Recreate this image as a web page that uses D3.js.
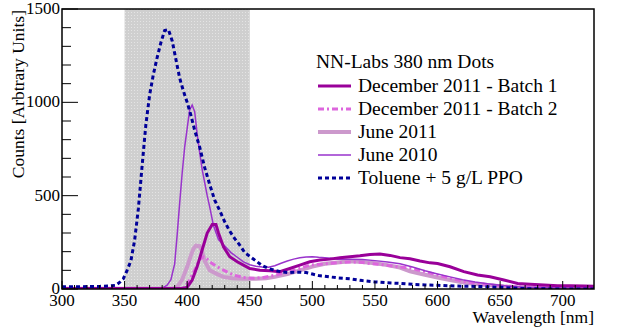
<!DOCTYPE html>
<html>
<head>
<meta charset="utf-8">
<script src="https://cdn.jsdelivr.net/npm/d3@7"></script>
<style>
  body { margin: 0; background: #fff; overflow: hidden; }
  svg { display: block; }
  text { font-family: 'Liberation Serif', 'Times New Roman', 'DejaVu Serif', serif; }
</style>
</head>
<body>
<svg id="chart" width="623" height="329"></svg>
<script>
// DATA --------------------------------------------------------------------
// wavelength [nm], counts
const batch1 = [[300,3],[350,3],[395,3],[398,5],[400,10],[404,48],[408,120],[412,210],[416,300],[420,345],[423,345],[425,300],[429,226],[434,173],[440,146],[445,128],[450,110],[458,101],[466,98],[474,93],[482,110],[490,128],[498,146],[506,155],[514,160],[522,167],[530,173],[538,178],[546,185],[554,187],[562,180],[570,168],[578,162],[586,150],[594,140],[600,137],[610,119],[621,93],[632,75],[642,66],[653,48],[664,30],[674,25],[685,21],[696,18],[706,18],[717,16],[725,15]];
const batch2 = [[300,3],[350,3],[395,3],[398,8],[402,50],[406,101],[410,160],[413,172],[416,160],[418,146],[424,119],[429,101],[437,75],[445,62],[453,57],[461,62],[471,75],[482,93],[490,110],[498,128],[506,133],[514,137],[522,142],[530,145],[538,143],[546,137],[554,132],[562,125],[570,118],[578,112],[589,95],[600,75],[610,58],[621,40],[632,30],[642,21],[653,15],[664,12],[680,8],[700,6],[725,5]];
const june2011 = [[300,2],[350,2],[388,2],[392,10],[396,50],[400,119],[403,180],[405,215],[407,232],[410,230],[412,200],[414,150],[416,125],[418,100],[424,80],[429,65],[436,58],[445,55],[455,55],[463,57],[470,65],[480,80],[490,100],[500,120],[510,135],[520,142],[530,148],[540,145],[550,138],[560,128],[570,115],[578,95],[589,78],[600,62],[610,48],[621,35],[632,26],[642,20],[653,14],[664,10],[680,7],[700,5],[725,4]];
const june2010 = [[300,2],[350,2],[380,5],[384,20],[387,50],[390,135],[392,290],[394,460],[396,620],[398,760],[400,860],[402,960],[404,985],[406,950],[408,830],[410,730],[412,640],[414,570],[416,500],[418,440],[421,340],[425,265],[430,230],[435,195],[440,170],[445,145],[450,130],[455,122],[460,118],[465,117],[470,125],[475,138],[480,150],[485,160],[490,167],[495,172],[500,173],[505,170],[510,168],[515,165],[520,160],[530,160],[540,158],[550,152],[560,145],[570,135],[580,118],[590,98],[600,80],[610,65],[620,50],[630,38],[640,28],[650,20],[660,14],[670,10],[680,8],[700,6],[725,5]];
const toluene = [[300,12],[310,12],[320,13],[330,14],[338,16],[343,20],[346,35],[349,55],[352,100],[355,150],[358,260],[361,430],[364,660],[367,880],[370,1040],[373,1150],[376,1240],[379,1320],[382,1385],[385,1390],[388,1330],[391,1230],[394,1130],[397,1060],[400,1000],[403,930],[406,850],[410,760],[414,650],[418,560],[422,476],[426,420],[430,360],[434,310],[438,270],[442,235],[446,195],[450,175],[455,150],[460,125],[465,110],[470,100],[475,92],[480,88],[485,90],[490,90],[495,88],[500,80],[505,72],[510,68],[520,60],[530,55],[540,45],[550,38],[560,33],[570,30],[580,25],[590,22],[600,20],[610,17],[620,15],[630,14],[640,12],[650,9],[660,5],[670,2],[680,1],[700,0],[725,0]];

const band = [350, 450];
const xTicks = [300, 350, 400, 450, 500, 550, 600, 650, 700];
const yTicks = [0, 500, 1000, 1500];

const legendTitle = "NN-Labs 380 nm Dots";
const series = [
  { name: "December 2011 - Batch 1", data: batch1,   color: "#990099", width: 3,   dash: null },
  { name: "December 2011 - Batch 2", data: batch2,   color: "#dd66dd", width: 3,   dash: "6,3,2,3" },
  { name: "June 2011",               data: june2011, color: "#cc99cc", width: 4,   dash: null },
  { name: "June 2010",               data: june2010, color: "#9933cc", width: 1.5, dash: null },
  { name: "Toluene + 5 g/L PPO",     data: toluene,  color: "#000099", width: 3,   dash: "4,3" }
];
// draw order (back to front)
const drawOrder = [2, 1, 3, 0, 4];

// SET UP ------------------------------------------------------------------
const svg = d3.select("#chart");
const margin = { top: 9, right: 29, bottom: 40, left: 62 };
const innerWidth = +svg.attr("width") - margin.left - margin.right;
const innerHeight = +svg.attr("height") - margin.top - margin.bottom;

const xScale = d3.scaleLinear().domain([300, 725]).range([0, innerWidth]);
const yScale = d3.scaleLinear().domain([0, 1500]).range([innerHeight, 0]);

const defs = svg.append("defs");
const pat = defs.append("pattern")
  .attr("id", "stipple").attr("width", 3).attr("height", 3)
  .attr("patternUnits", "userSpaceOnUse");
pat.append("rect").attr("width", 3).attr("height", 3).attr("fill", "#cfcfcf");
pat.append("rect").attr("width", 1).attr("height", 1).attr("fill", "#e4e4e4");

defs.append("clipPath").attr("id", "plotClip")
  .append("rect").attr("width", innerWidth).attr("height", innerHeight);

const g = svg.append("g").attr("transform", `translate(${margin.left},${margin.top})`);

// shaded band
g.append("rect")
  .attr("x", xScale(band[0])).attr("y", 0)
  .attr("width", xScale(band[1]) - xScale(band[0]))
  .attr("height", innerHeight)
  .attr("fill", "url(#stipple)");

// curves
const line = d3.line().x(d => xScale(d[0])).y(d => yScale(d[1]));
const curves = g.append("g").attr("clip-path", "url(#plotClip)");
drawOrder.forEach(i => {
  const s = series[i];
  curves.append("path")
    .datum(s.data)
    .attr("fill", "none")
    .attr("stroke", s.color)
    .attr("stroke-width", s.width)
    .attr("stroke-dasharray", s.dash)
    .attr("d", line);
});

// axes (ROOT style, ticks pointing inward) ----------------------------------
const xMinor = d3.range(300, 726, 10);
const yMinor = d3.range(0, 1501, 100);

g.selectAll(".xminor").data(xMinor).enter().append("line")
  .attr("x1", d => xScale(d)).attr("x2", d => xScale(d))
  .attr("y1", innerHeight).attr("y2", d => innerHeight - (d % 50 === 0 ? 8 : 4))
  .attr("stroke", "#000").attr("stroke-width", 1);

g.selectAll(".yminor").data(yMinor).enter().append("line")
  .attr("y1", d => yScale(d)).attr("y2", d => yScale(d))
  .attr("x1", 0).attr("x2", d => (d % 500 === 0 ? 16 : 9))
  .attr("stroke", "#000").attr("stroke-width", 1);

// frame
g.append("rect")
  .attr("width", innerWidth).attr("height", innerHeight)
  .attr("fill", "none").attr("stroke", "#000").attr("stroke-width", 1.5);

// tick labels
g.selectAll(".xlab").data(xTicks).enter().append("text")
  .attr("x", d => xScale(d)).attr("y", innerHeight + 17)
  .attr("text-anchor", "middle")
  .attr("font-size", 17)
  .text(d => d);

g.selectAll(".ylab").data(yTicks).enter().append("text")
  .attr("x", -2).attr("y", d => yScale(d) + 5)
  .attr("text-anchor", "end")
  .attr("font-size", 17)
  .text(d => d);

// axis titles
g.append("text")
  .attr("x", innerWidth).attr("y", innerHeight + 34)
  .attr("text-anchor", "end").attr("font-size", 17.5)
  .text("Wavelength [nm]");

svg.append("text")
  .attr("transform", "translate(24,10) rotate(-90)")
  .attr("text-anchor", "end").attr("font-size", 17.5)
  .text("Counts [Arbtrary Units]");

// LEGEND -------------------------------------------------------------------
const legend = svg.append("g");
legend.append("text")
  .attr("x", 316).attr("y", 68)
  .attr("font-size", 19.5)
  .text(legendTitle);

series.forEach((s, i) => {
  const cy = 86 + i * 23;
  legend.append("line")
    .attr("x1", 318).attr("x2", 351)
    .attr("y1", cy).attr("y2", cy)
    .attr("stroke", s.color)
    .attr("stroke-width", s.width)
    .attr("stroke-dasharray", s.dash);
  legend.append("text")
    .attr("x", 358).attr("y", cy + 6)
    .attr("font-size", 19.5)
    .text(s.name);
});
</script>
</body>
</html>
